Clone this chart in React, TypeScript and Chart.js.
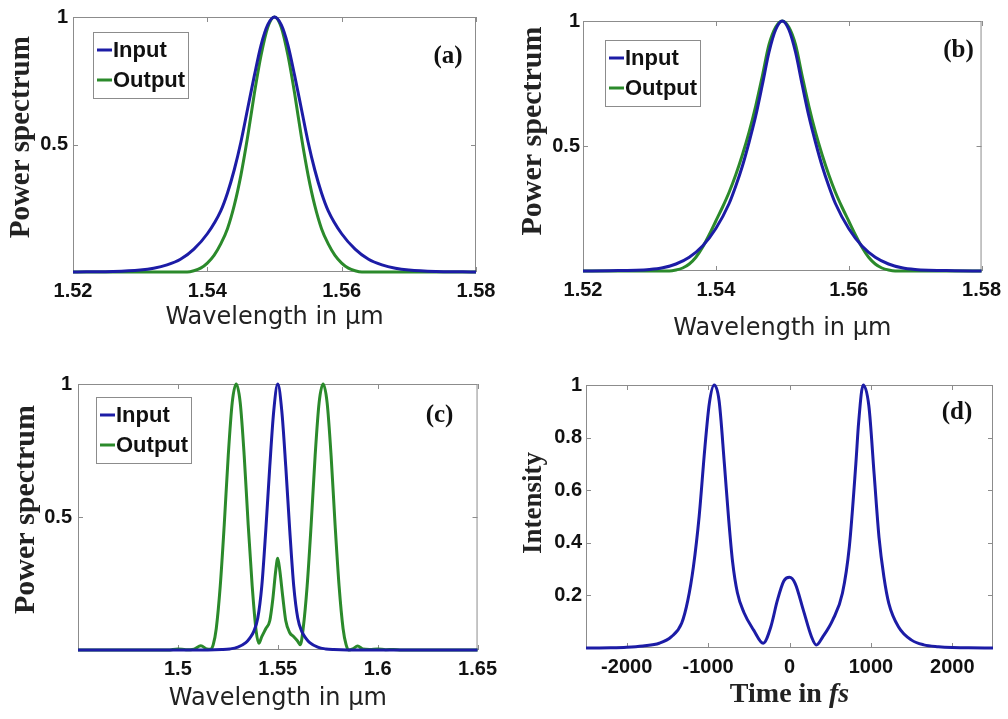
import React, { useEffect, useRef } from "react";
import { Chart, registerables } from "chart.js";

Chart.register(...registerables);

const BLUE = "#1c1ca6";
const GREEN = "#2b8a2b";

// ---------- panel (a) ----------
const wavelengthInA = [1.520, 1.522, 1.526, 1.530, 1.532, 1.534, 1.536, 1.538, 1.540, 1.542, 1.543, 1.544, 1.545, 1.546, 1.547, 1.548, 1.549, 1.550, 1.551, 1.552, 1.553, 1.554, 1.555, 1.556, 1.557, 1.558, 1.560, 1.562, 1.564, 1.566, 1.568, 1.570, 1.574, 1.578, 1.580];
const inputA = [0, 0.0005, 0.002, 0.008, 0.015, 0.028, 0.05, 0.09, 0.15, 0.24, 0.31, 0.40, 0.51, 0.64, 0.77, 0.89, 0.97, 1.0, 0.97, 0.89, 0.77, 0.64, 0.51, 0.40, 0.31, 0.24, 0.15, 0.09, 0.05, 0.028, 0.015, 0.008, 0.002, 0.0005, 0];
const wavelengthOutA = [1.520, 1.537, 1.538, 1.539, 1.540, 1.541, 1.542, 1.543, 1.544, 1.545, 1.546, 1.547, 1.548, 1.549, 1.550, 1.551, 1.552, 1.553, 1.554, 1.555, 1.556, 1.557, 1.558, 1.559, 1.560, 1.561, 1.562, 1.563, 1.580];
const outputA = [0, 0, 0.005, 0.015, 0.035, 0.065, 0.11, 0.17, 0.26, 0.38, 0.53, 0.70, 0.85, 0.96, 1.0, 0.96, 0.85, 0.70, 0.53, 0.38, 0.26, 0.17, 0.11, 0.065, 0.035, 0.015, 0.005, 0, 0];

// ---------- panel (b) ----------
const wavelengthInB = [1.520, 1.524, 1.526, 1.528, 1.530, 1.532, 1.534, 1.536, 1.538, 1.540, 1.542, 1.543, 1.544, 1.545, 1.546, 1.547, 1.548, 1.549, 1.550, 1.551, 1.552, 1.553, 1.554, 1.555, 1.556, 1.557, 1.558, 1.560, 1.562, 1.564, 1.566, 1.568, 1.570, 1.572, 1.574, 1.576, 1.580];
const inputB = [0, 0.001, 0.002, 0.003, 0.006, 0.013, 0.028, 0.055, 0.10, 0.17, 0.27, 0.34, 0.42, 0.515, 0.62, 0.745, 0.875, 0.965, 1.0, 0.965, 0.875, 0.745, 0.62, 0.515, 0.42, 0.34, 0.27, 0.17, 0.10, 0.055, 0.028, 0.013, 0.006, 0.003, 0.002, 0.001, 0];
const wavelengthOutB = [1.520, 1.533, 1.534, 1.535, 1.536, 1.537, 1.538, 1.539, 1.540, 1.541, 1.542, 1.543, 1.544, 1.545, 1.546, 1.547, 1.548, 1.549, 1.550, 1.551, 1.552, 1.553, 1.554, 1.555, 1.556, 1.557, 1.558, 1.559, 1.560, 1.561, 1.562, 1.563, 1.564, 1.565, 1.566, 1.567, 1.580];
const outputB = [0, 0, 0.004, 0.012, 0.028, 0.055, 0.095, 0.145, 0.20, 0.255, 0.315, 0.385, 0.465, 0.555, 0.66, 0.78, 0.905, 0.975, 1.0, 0.975, 0.905, 0.78, 0.66, 0.555, 0.465, 0.385, 0.315, 0.255, 0.20, 0.145, 0.095, 0.055, 0.028, 0.012, 0.004, 0, 0];

const xTicksAB = [1.52, 1.54, 1.56, 1.58];
const yTicksSpectrum = [0.5, 1];

// ---------- panel (c) ----------
const wavelengthInC = [1.45, 1.50, 1.515, 1.522, 1.526, 1.530, 1.534, 1.536, 1.538, 1.540, 1.542, 1.544, 1.546, 1.548, 1.550, 1.552, 1.554, 1.556, 1.558, 1.560, 1.562, 1.564, 1.566, 1.570, 1.574, 1.578, 1.585, 1.60, 1.65];
const inputC = [0, 0, 0, 0.0015, 0.004, 0.011, 0.028, 0.045, 0.07, 0.12, 0.24, 0.45, 0.69, 0.90, 1.0, 0.90, 0.69, 0.45, 0.24, 0.12, 0.07, 0.045, 0.028, 0.011, 0.004, 0.0015, 0, 0, 0];
const wavelengthOutC = [1.45, 1.495, 1.500, 1.504, 1.508, 1.5115, 1.5145, 1.5165,
  1.5177, 1.5192, 1.5212, 1.5232, 1.5252, 1.5272, 1.5292, 1.5312, 1.5332, 1.5352, 1.5372, 1.5392, 1.5405,
  1.5420, 1.5440, 1.5460, 1.5475, 1.5490, 1.5500, 1.5510, 1.5525, 1.5540, 1.5560, 1.5580, 1.5598, 1.5613,
  1.5627, 1.5647, 1.5667, 1.5687, 1.5707, 1.5727, 1.5747, 1.5767, 1.5787, 1.5807, 1.5827, 1.5842, 1.5855,
  1.5875, 1.5900, 1.5925, 1.596, 1.600, 1.604, 1.608, 1.612, 1.65];
const outputC = [0, 0, 0.004, 0.001, 0.003, 0.016, 0.004, 0.003,
  0.02, 0.08, 0.24, 0.47, 0.73, 0.93, 1.0, 0.93, 0.73, 0.47, 0.24, 0.07, 0.025,
  0.05, 0.08, 0.11, 0.19, 0.30, 0.345, 0.30, 0.20, 0.11, 0.065, 0.05, 0.035, 0.02,
  0.08, 0.24, 0.47, 0.73, 0.93, 1.0, 0.93, 0.73, 0.47, 0.24, 0.08, 0.02, 0.0,
  0.004, 0.015, 0.004, 0.002, 0.004, 0.001, 0.002, 0, 0];
const xTicksC = [1.5, 1.55, 1.6, 1.65];

// ---------- panel (d) ----------
const timeD = [-2500, -2200, -2000, -1800, -1600, -1450, -1325, -1250, -1180, -1110, -1040, -985, -925, -865, -800, -750, -700, -640, -560, -440, -323, -230, -150, -70, 0, 70, 170, 270, 330, 410, 530, 650, 735, 815, 850, 905, 975, 1040, 1100, 1160, 1220, 1340, 1500, 1650, 1830, 2000, 2200, 2500];
const intensityD = [0, 0.001, 0.003, 0.008, 0.018, 0.043, 0.094, 0.18, 0.31, 0.50, 0.76, 0.93, 1.0, 0.94, 0.70, 0.50, 0.33, 0.21, 0.135, 0.068, 0.018, 0.08, 0.18, 0.255, 0.269, 0.245, 0.144, 0.043, 0.011, 0.043, 0.106, 0.208, 0.385, 0.70, 0.86, 1.0, 0.92, 0.66, 0.42, 0.27, 0.17, 0.08, 0.03, 0.012, 0.005, 0.002, 0.001, 0];
const xTicksD = [-2000, -1000, 0, 1000, 2000];
const yTicksD = [0.2, 0.4, 0.6, 0.8, 1];

const pts = (xs: number[], ys: number[]) => xs.map((x, i) => ({ x, y: ys[i] }));

const TICK_FONT = { family: "'Liberation Sans', Arial, sans-serif", size: 20, weight: "bold" as const };
const SERIF = "'Liberation Serif', 'Times New Roman', serif";

const framePlugin = {
  id: "matlabFrame",
  beforeDatasetsDraw(chart: any) {
    const { ctx, chartArea: a, scales } = chart;
    ctx.save();
    ctx.strokeStyle = "#8c8c8c";
    ctx.lineWidth = 1;
    ctx.strokeRect(a.left + 0.5, a.top + 0.5, a.width - 1, a.height - 1);
    const tl = 5;
    ctx.beginPath();
    scales.x.ticks.forEach((t: any) => {
      const px = Math.round(scales.x.getPixelForValue(t.value)) + 0.5;
      ctx.moveTo(px, a.bottom);
      ctx.lineTo(px, a.bottom - tl);
      ctx.moveTo(px, a.top);
      ctx.lineTo(px, a.top + tl);
    });
    scales.y.ticks.forEach((t: any) => {
      const py = Math.round(scales.y.getPixelForValue(t.value)) + 0.5;
      ctx.moveTo(a.left, py);
      ctx.lineTo(a.left + tl, py);
      ctx.moveTo(a.right, py);
      ctx.lineTo(a.right - tl, py);
    });
    ctx.stroke();
    ctx.restore();
  },
  afterDatasetsDraw(chart: any, _args: any, opts: any) {
    const { ctx, chartArea: a } = chart;
    ctx.save();
    if (opts.legend) {
      const lg = opts.legend;
      const bx = a.left + lg.dx;
      const by = a.top + lg.dy;
      ctx.fillStyle = "#ffffff";
      ctx.fillRect(bx, by, lg.w, lg.h);
      ctx.strokeStyle = "#8c8c8c";
      ctx.lineWidth = 1;
      ctx.strokeRect(bx + 0.5, by + 0.5, lg.w, lg.h);
      ctx.font = "bold 22px 'Liberation Sans', Arial, sans-serif";
      ctx.textBaseline = "middle";
      ctx.textAlign = "left";
      chart.data.datasets.forEach((ds: any, i: number) => {
        const ly = by + lg.rows[i];
        ctx.strokeStyle = ds.borderColor;
        ctx.lineWidth = 3;
        ctx.beginPath();
        ctx.moveTo(bx + 4, ly);
        ctx.lineTo(bx + 19, ly);
        ctx.stroke();
        ctx.fillStyle = "#111";
        ctx.fillText(ds.label, bx + 20, ly + 1);
      });
    }
    if (opts.panel) {
      ctx.font = `bold 25px ${SERIF}`;
      ctx.fillStyle = "#111";
      ctx.textAlign = "center";
      ctx.textBaseline = "middle";
      ctx.fillText(opts.panel.text, a.right + opts.panel.dx, a.top + opts.panel.dy);
    }
    if (opts.xTitle) {
      const parts = opts.xTitle.parts;
      const fonts = parts.map((p: any) => `${p.italic ? "italic " : ""}bold ${opts.xTitle.size}px ${SERIF}`);
      let total = 0;
      const widths = parts.map((p: any, i: number) => {
        ctx.font = fonts[i];
        const w = ctx.measureText(p.text).width;
        total += w;
        return w;
      });
      let x = (a.left + a.right) / 2 - total / 2;
      ctx.fillStyle = "#222";
      ctx.textAlign = "left";
      ctx.textBaseline = "middle";
      parts.forEach((p: any, i: number) => {
        ctx.font = fonts[i];
        ctx.fillText(p.text, x, opts.xTitle.y);
        x += widths[i];
      });
    }
    ctx.restore();
  },
};

type PanelCfg = {
  box: { left: number; top: number; w: number; h: number };
  pad: { left: number; top: number; right: number; bottom: number };
  yW: number;
  xH: number;
  xMin: number;
  xMax: number;
  xTicks: number[];
  yTicks: number[];
  datasets: any[];
  xTitle?: string;
  yTitle: string;
  yTitleSize: number;
  yTitlePad: number;
  yTickPad: number;
  frameOpts: any;
};

function Panel({ cfg }: { cfg: PanelCfg }) {
  const ref = useRef<HTMLCanvasElement | null>(null);
  useEffect(() => {
    if (!ref.current) return;
    const chart = new Chart(ref.current, {
      type: "line",
      data: { datasets: cfg.datasets },
      plugins: [framePlugin as any],
      options: {
        responsive: false,
        animation: false,
        devicePixelRatio: 1,
        layout: { padding: cfg.pad },
        elements: { point: { radius: 0 } },
        plugins: {
          legend: { display: false },
          tooltip: { enabled: false },
          matlabFrame: cfg.frameOpts,
        } as any,
        scales: {
          x: {
            type: "linear",
            min: cfg.xMin,
            max: cfg.xMax,
            afterBuildTicks: (s: any) => {
              s.ticks = cfg.xTicks.map((v) => ({ value: v }));
            },
            afterFit: (s: any) => {
              s.height = cfg.xH;
            },
            grid: { display: false, drawTicks: false },
            border: { display: false },
            ticks: {
              padding: 7,
              color: "#111",
              font: TICK_FONT,
              autoSkip: false,
              maxRotation: 0,
              callback: (v: any) => String(v),
            },
            title: cfg.xTitle
              ? {
                  display: true,
                  text: cfg.xTitle,
                  color: "#222",
                  font: { family: "'DejaVu Sans', sans-serif", size: 24, weight: "normal" },
                  padding: { top: 0, bottom: 0 },
                }
              : { display: false },
          },
          y: {
            type: "linear",
            min: 0,
            max: 1,
            afterBuildTicks: (s: any) => {
              s.ticks = cfg.yTicks.map((v) => ({ value: v }));
            },
            afterFit: (s: any) => {
              s.width = cfg.yW;
            },
            grid: { display: false, drawTicks: false },
            border: { display: false },
            ticks: {
              padding: cfg.yTickPad,
              color: "#111",
              font: TICK_FONT,
              autoSkip: false,
              callback: (v: any) => String(v),
            },
            title: {
              display: true,
              text: cfg.yTitle,
              color: "#222",
              font: { family: SERIF, size: cfg.yTitleSize, weight: "bold" },
              padding: { top: cfg.yTitlePad, bottom: 0 },
            },
          },
        },
      } as any,
    });
    return () => chart.destroy();
  }, [cfg]);
  return (
    <canvas
      ref={ref}
      width={cfg.box.w}
      height={cfg.box.h}
      style={{ position: "absolute", left: cfg.box.left, top: cfg.box.top, width: cfg.box.w, height: cfg.box.h }}
    />
  );
}

const line = (label: string, color: string, xs: number[], ys: number[]) => ({
  label,
  data: pts(xs, ys),
  borderColor: color,
  backgroundColor: color,
  borderWidth: 3,
  pointRadius: 0,
  fill: false,
  clip: false,
  cubicInterpolationMode: "monotone",
});

const legendAB = { w: 95, h: 66, rows: [18, 48] };

const panels: PanelCfg[] = [
  {
    box: { left: 0, top: 0, w: 504, h: 345 },
    pad: { left: 0, top: 14, right: 28, bottom: 13 },
    yW: 73,
    xH: 60,
    xMin: 1.52,
    xMax: 1.58,
    xTicks: xTicksAB,
    yTicks: yTicksSpectrum,
    datasets: [line("Input", BLUE, wavelengthInA, inputA), line("Output", GREEN, wavelengthOutA, outputA)],
    xTitle: "Wavelength in μm",
    yTitle: "  Power spectrum",
    yTitleSize: 29,
    yTitlePad: 4,
    yTickPad: 5,
    frameOpts: { legend: { ...legendAB, dx: 20, dy: 15 }, panel: { text: "(a)", dx: -28, dy: 40 } },
  },
  {
    box: { left: 504, top: 0, w: 504, h: 345 },
    pad: { left: 0, top: 21, right: 24, bottom: 2 },
    yW: 79,
    xH: 72,
    xMin: 1.52,
    xMax: 1.58,
    xTicks: xTicksAB,
    yTicks: yTicksSpectrum,
    datasets: [line("Input", BLUE, wavelengthInB, inputB), line("Output", GREEN, wavelengthOutB, outputB)],
    xTitle: "Wavelength in μm",
    yTitle: "    Power spectrum",
    yTitleSize: 30,
    yTitlePad: 11,
    yTickPad: 3,
    frameOpts: { legend: { ...legendAB, dx: 22, dy: 19 }, panel: { text: "(b)", dx: -23, dy: 30 } },
  },
  {
    box: { left: 0, top: 360, w: 504, h: 359 },
    pad: { left: 0, top: 24, right: 25, bottom: 6 },
    yW: 78,
    xH: 63,
    xMin: 1.45,
    xMax: 1.65,
    xTicks: xTicksC,
    yTicks: yTicksSpectrum,
    datasets: [line("Input", BLUE, wavelengthInC, inputC), line("Output", GREEN, wavelengthOutC, outputC)],
    xTitle: "Wavelength in μm",
    yTitle: "  Power spectrum",
    yTitleSize: 30,
    yTitlePad: 8,
    yTickPad: 6,
    frameOpts: { legend: { ...legendAB, dx: 18, dy: 13 }, panel: { text: "(c)", dx: -38, dy: 32 } },
  },
  {
    box: { left: 504, top: 360, w: 504, h: 359 },
    pad: { left: 0, top: 25, right: 15, bottom: 7 },
    yW: 82,
    xH: 64,
    xMin: -2500,
    xMax: 2500,
    xTicks: xTicksD,
    yTicks: yTicksD,
    datasets: [line("Intensity", BLUE, timeD, intensityD)],
    yTitle: "    Intensity",
    yTitleSize: 27,
    yTitlePad: 14,
    yTickPad: 4,
    frameOpts: {
      panel: { text: "(d)", dx: -36, dy: 28 },
      xTitle: { size: 28, y: 335, parts: [{ text: "Time in ", italic: false }, { text: "fs", italic: true }] },
    },
  },
];

export default function App() {
  return (
    <div style={{ position: "fixed", left: 0, top: 0, width: 1008, height: 719, background: "#ffffff", overflow: "hidden" }}>
      {panels.map((p, i) => (
        <Panel key={i} cfg={p} />
      ))}
    </div>
  );
}
